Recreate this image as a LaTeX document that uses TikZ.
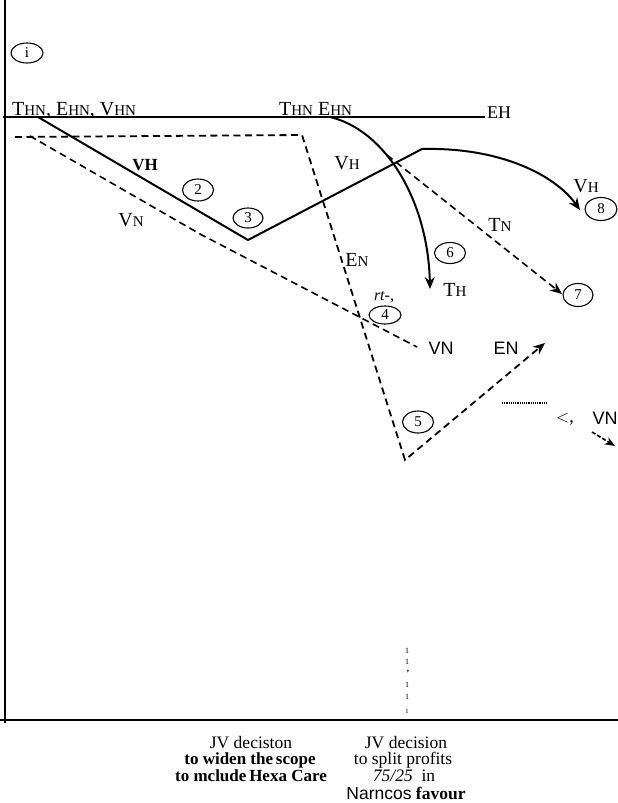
\documentclass[tikz,border=0pt]{standalone}
\usepackage{fontspec}
\setmainfont{Liberation Serif}
\setsansfont{Liberation Sans}
\usetikzlibrary{shapes.geometric,arrows.meta}
\newcommand\smc[2]{#1{\fontsize{15}{15}\selectfont #2}}
\begin{document}
\begin{tikzpicture}[x=1pt,y=-1pt,
  lab/.style={inner sep=0pt, font=\fontsize{20}{20}\selectfont},
  sanslab/.style={inner sep=0pt, font=\sffamily\fontsize{18}{18}\selectfont},
  num/.style={draw, ellipse, line width=1.1pt, minimum width=31pt, minimum height=22pt, inner sep=0pt, font=\fontsize{15}{15}\selectfont},
  solidline/.style={line width=2pt},
  dashline/.style={line width=1.6pt, dash pattern=on 7pt off 4.5pt},
  arr/.style={-{Stealth[length=12pt,width=10pt,inset=4pt]}},
  bot/.style={inner sep=0pt, anchor=base, font=\fontsize{17.5}{17.5}\selectfont},
  tick/.style={inner sep=0pt, font=\fontsize{8}{8}\selectfont}
]
\useasboundingbox (0,0) rectangle (618,803);
\fill[white] (0,0) rectangle (618,803);

% axes
\coordinate (ytop) at (5,0);
\coordinate (ybot) at (5,723);
\coordinate (xl) at (0,720);
\coordinate (xr) at (618,720);
\draw[line width=2pt] (ytop) -- (ybot);
\draw[line width=1.8pt] (xl) -- (xr);

% top horizontal line
\coordinate (tl) at (3,117);
\coordinate (tr) at (485,117);
\draw[line width=1.3pt] (tl) -- (tr);

% circled numbers
\node[num, minimum width=32pt, minimum height=20pt] (c1) at (27,53) {i};
\node[num] (c2) at (198,190) {2};
\node[num, minimum width=30pt, minimum height=20pt] (c3) at (248,218) {3};
\node[num, minimum width=32pt, minimum height=18pt] (c4) at (385,315) {4};
\node[num] (c5) at (418,422) {5};
\node[num, minimum height=21pt] (c6) at (450,253) {6};
\node[num, minimum width=30pt, minimum height=23pt] (c7) at (578,295) {7};
\node[num, minimum width=32pt, minimum height=23pt] (c8) at (601,209) {8};

% top labels
\node[lab, anchor=base west] (thn1) at (12,115) {\smc{T}{HN}, \smc{E}{HN}, \smc{V}{HN}};
\node[lab, anchor=base west] (thn2) at (279,115) {\smc{T}{HN} \smc{E}{HN}};
\node[lab, font=\fontsize{18}{18}\selectfont] (eh) at (499,113) {EH};

% line labels
\node[inner sep=0pt, font=\bfseries\fontsize{17}{17}\selectfont] (vhb) at (145,165) {VH};
\node[lab] (vn1) at (131,220) {\smc{V}{N}};
\node[lab] (vh2) at (347,163) {\smc{V}{H}};
\node[lab] (en1) at (357,260) {\smc{E}{N}};
\node[lab] (th1) at (455,290) {\smc{T}{H}};
\node[lab] (tn1) at (500,225) {\smc{T}{N}};
\node[lab] (vh3) at (586,186) {\smc{V}{H}};
\node[inner sep=0pt, font=\itshape\fontsize{16}{16}\selectfont] (rt) at (384,297) {rt-,};
\node[sanslab] (vn2) at (441,348) {VN};
\node[sanslab] (en2) at (506,348) {EN};
\node[inner sep=0pt, font=\fontsize{18}{18}\selectfont] (lt) at (565,419) {$<$,};
\node[sanslab] (vn3) at (605,418) {VN};

% main solid line with arrow to 8
\coordinate (s0) at (38,117);
\coordinate (s1) at (248,240);
\coordinate (s2) at (422,149);
\coordinate (s3) at (580,210);
\draw[solidline, arr] (s0) -- (s1) -- (s2) .. controls (500,147) and (555,175) .. (s3);

% solid curve to 6 / TH
\coordinate (k0) at (330,117);
\coordinate (k1) at (430,289);
\draw[solidline, arr] (k0) .. controls (385,130) and (428,200) .. (k1);

% dashed EN path
\coordinate (d0) at (15,137);
\coordinate (d1) at (302,135);
\coordinate (d2) at (405,460);
\coordinate (d3) at (545,343);
\draw[dashline, line width=1.8pt, arr] (d0) -- (d1) -- (d2) -- (d3);

% dashed VN path
\coordinate (v0) at (30,136);
\coordinate (v1) at (200,234);
\coordinate (v2) at (417,347);
\draw[dashline] (v0) -- (v1) -- (v2);

% dashed TN arrow to 7
\coordinate (t0) at (387,155);
\coordinate (t1) at (562,294);
\draw[dashline, arr] (t0) -- (t1);

% dotted segment
\coordinate (p0) at (502,403);
\coordinate (p1) at (548,403);
\draw[line width=2.2pt, dash pattern=on 1.2pt off 1pt] (p0) -- (p1);

% small arrow
\coordinate (q0) at (592,432);
\coordinate (q1) at (615,446);
\draw[line width=1.6pt, dash pattern=on 4pt off 2pt, -{Stealth[length=10pt,width=8pt,inset=3pt]}] (q0) -- (q1);

% vertical tick marks
\node[tick] (m1) at (407,651) {1};
\node[tick] (m2) at (407,662) {1};
\node[tick, font=\bfseries\fontsize{9}{9}\selectfont] (m3) at (408,672) {,};
\node[tick] (m4) at (407,685) {1};
\node[tick] (m5) at (407,697) {1};
\node[tick, font=\fontsize{6.5}{6.5}\selectfont] (m6) at (407,711) {1};

% bottom captions
\node[bot] (a1) at (251,748) {JV deciston};
\node[bot, font=\bfseries\fontsize{17}{17}\selectfont] (a2) at (250,764) {to widen the\,scope};
\node[bot, font=\bfseries\fontsize{17}{17}\selectfont] (a3) at (251,781) {to mclude\,Hexa Care};
\node[bot] (b1) at (406,748) {JV decision};
\node[bot] (b2) at (403,764) {to split profits};
\node[bot] (b3) at (404,781) {\textit{75/25}\ \ in};
\node[bot] (b4) at (406,799) {\textsf{Narncos} \textbf{favour}};
\end{tikzpicture}
\end{document}
